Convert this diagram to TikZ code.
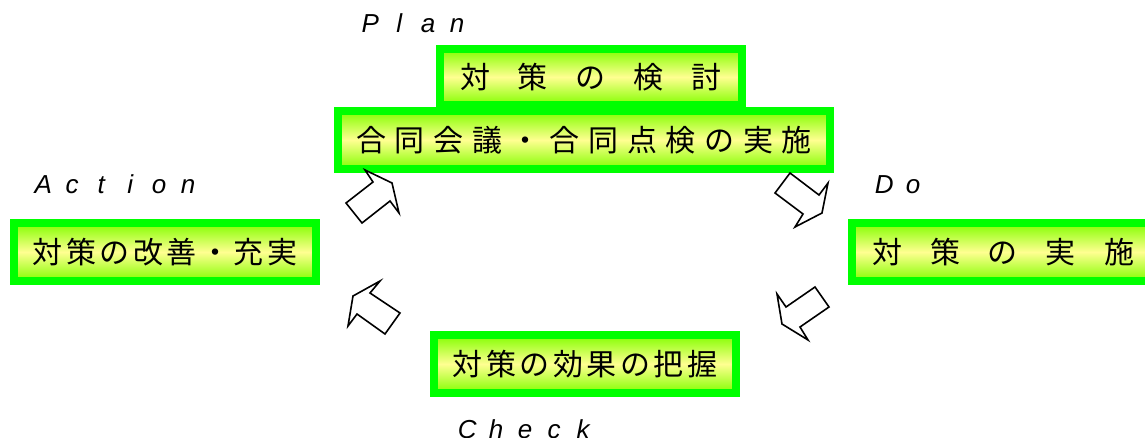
\documentclass[tikz,border=0pt]{standalone}
\usepackage{fontspec}
\newfontfamily\cjk{Noto Sans CJK JP}
\newfontfamily\latinlabel{Liberation Sans Italic}
\definecolor{boxgreen}{RGB}{0,255,0}
\definecolor{limeedge}{RGB}{130,255,0}
\definecolor{paleyellow}{RGB}{255,255,145}
\newcommand\cellrow[2]{\foreach \zch in {#2}{\makebox[#1]{\zch}}}

\begin{document}
\begin{tikzpicture}[x=1pt,y=-1pt,
    stepbox/.style={rectangle, draw=boxgreen, line width=8pt, top color=limeedge, bottom color=limeedge, middle color=paleyellow, inner sep=0pt, minimum width=302pt, minimum height=58pt, font=\cjk\fontsize{30}{30}\selectfont},
    phase/.style={anchor=base west, inner sep=0pt, font=\latinlabel\fontsize{26}{26}\selectfont},
    turn/.style={draw=black, line width=1.6pt, fill=white, line join=miter}]
        \useasboundingbox (0,0) rectangle (1145,438);
        \clip (0,0) rectangle (1145,438);

        % Boxes
        \node[stepbox, minimum height=56pt] (plantop) at (591,77) {\cellrow{58pt}{対,策,の,検,討}};
        \node[stepbox, minimum width=492pt] (plan) at (584,140) {\cellrow{38.7pt}{合,同,会,議,・,合,同,点,検,の,実,施}};
        \node[stepbox] (act) at (165,252) {\cellrow{33.5pt}{対,策,の,改,善,・,充,実}};
        \node[stepbox] (do) at (1003,252) {\cellrow{58pt}{対,策,の,実,施}};
        \node[stepbox] (check) at (585,364) {\cellrow{33.5pt}{対,策,の,効,果,の,把,握}};

        % Phase names
        \node[phase] (planlabel) at (355.5,33) {\cellrow{29pt}{P,l,a,n}};
        \node[phase] (actlabel) at (28.5,194) {\cellrow{29pt}{A,c,t,i,o,n}};
        \node[phase] (dolabel) at (869.5,194) {\cellrow{29pt}{D,o}};
        \node[phase] (checklabel) at (452.5,438) {\cellrow{29pt}{C,h,e,c,k}};

        % Turning arrows
        \draw[turn] (346,203) -- (362,223) -- (390,201) -- (399,213) -- (392,183) -- (365,170) -- (373,182) -- cycle;
        \draw[turn] (790,173) -- (775,193) -- (803,214) -- (795,227) -- (822,213) -- (828,183) -- (819,195) -- cycle;
        \draw[turn] (815,287) -- (829,307) -- (800,327) -- (808,340) -- (782,324) -- (777,294) -- (786,307) -- cycle;
        \draw[turn] (380,281) -- (370,293) -- (400,313) -- (385,334) -- (357,314) -- (348,326) -- (353,296) -- cycle;
    \end{tikzpicture}
\end{document}
